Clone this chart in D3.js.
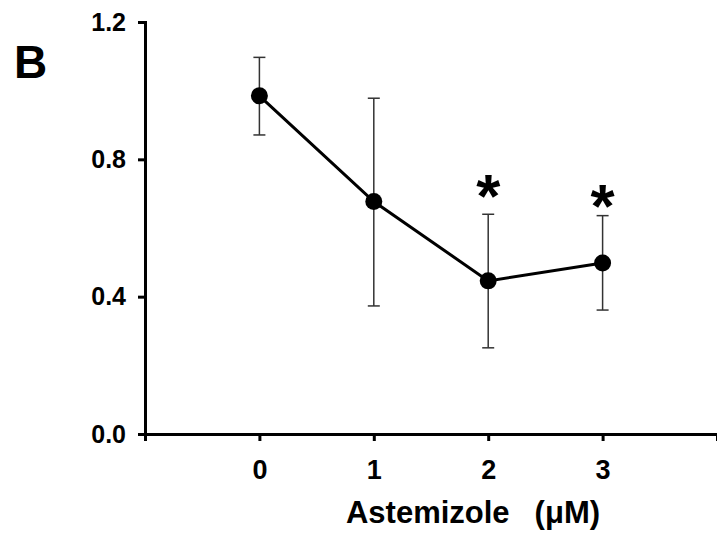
<!DOCTYPE html>
<html>
<head>
<meta charset="utf-8">
<script src="https://cdn.jsdelivr.net/npm/d3@7"></script>
<style>
  body { margin: 0; background: #fff; }
  svg { display: block; font-family: "Liberation Sans", Arial, sans-serif; }
</style>
</head>
<body>
<div id="chart"></div>
<script>
// doses (uM) and mean relative values with error bar ends
var doses = [0, 1, 2, 3];
var means = [0.985, 0.677, 0.446, 0.498];
var upper = [1.097, 0.978, 0.640, 0.636];
var lower = [0.871, 0.373, 0.251, 0.361];
// significance marks: which doses, and where the star sits (y units)
var sigDoses = [2, 3];
var sigY = [0.725, 0.696];
var yTicks = [0, 0.4, 0.8, 1.2];
var xTicks = [-1, 0, 1, 2, 3, 4];

function init() {
  var w = 717;
  var h = 536;

  var svg = d3
    .select("#chart")
    .append("svg")
    .attr("width", w)
    .attr("height", h);

  //scales
  var xScale = d3.scaleLinear().domain([-1, 4]).range([145, 717]);
  var yScale = d3.scaleLinear().domain([0, 1.2]).range([434, 22]);

  //x axis, labels only for the doses
  var xAxis = d3
    .axisBottom(xScale)
    .tickValues(xTicks)
    .tickSizeOuter(0)
    .tickSize(7)
    .tickPadding(19)
    .tickFormat(function (d) {
      return d >= 0 && d <= 3 ? d : "";
    });

  var yAxis = d3
    .axisLeft(yScale)
    .tickValues(yTicks)
    .tickSizeOuter(0)
    .tickSize(7)
    .tickPadding(12)
    .tickFormat(d3.format(".1f"));

  var gx = svg
    .append("g")
    .attr("transform", "translate(0," + yScale(0) + ")")
    .call(xAxis);

  var gy = svg
    .append("g")
    .attr("transform", "translate(" + xScale(-1) + ",0)")
    .call(yAxis);

  [gx, gy].forEach(function (g) {
    g.select(".domain").attr("stroke", "#000").attr("stroke-width", 3);
    g.selectAll(".tick line").attr("stroke", "#000").attr("stroke-width", 3);
    g.selectAll(".tick text")
      .attr("fill", "#000")
      .style("font-size", "25px")
      .style("font-weight", "bold")
      .style("font-family", "Liberation Sans, Arial, sans-serif");
  });
  gx.selectAll(".tick text").style("font-size", "27px");

  //error bars
  var bars = svg.append("g").attr("stroke", "#333").attr("stroke-width", 1.5);
  doses.forEach(function (d, i) {
    var x = xScale(d);
    bars.append("line")
      .attr("x1", x).attr("x2", x)
      .attr("y1", yScale(upper[i])).attr("y2", yScale(lower[i]));
    bars.append("line")
      .attr("x1", x - 6).attr("x2", x + 6)
      .attr("y1", yScale(upper[i])).attr("y2", yScale(upper[i]));
    bars.append("line")
      .attr("x1", x - 6).attr("x2", x + 6)
      .attr("y1", yScale(lower[i])).attr("y2", yScale(lower[i]));
  });

  //line through means
  var line = d3
    .line()
    .x(function (d, i) { return xScale(doses[i]); })
    .y(function (d) { return yScale(d); });

  svg.append("path")
    .datum(means)
    .attr("d", line)
    .attr("fill", "none")
    .attr("stroke", "#000")
    .attr("stroke-width", 3);

  //points
  svg.selectAll(".pt")
    .data(means)
    .enter()
    .append("circle")
    .attr("class", "pt")
    .attr("cx", function (d, i) { return xScale(doses[i]); })
    .attr("cy", function (d) { return yScale(d); })
    .attr("r", 8.5)
    .attr("fill", "#000");

  //significance stars
  svg.selectAll(".star")
    .data(sigDoses)
    .enter()
    .append("text")
    .attr("class", "star")
    .attr("x", function (d) { return xScale(d); })
    .attr("y", function (d, i) { return yScale(sigY[i]); })
    .attr("dy", "0.52em")
    .attr("text-anchor", "middle")
    .style("font-size", "62px")
    .style("font-weight", "bold")
    .text("*");

  //x axis title, wide gap before the unit
  var title = svg.append("text")
    .attr("x", 473)
    .attr("y", 523)
    .attr("text-anchor", "middle")
    .style("font-size", "31px")
    .style("font-weight", "bold");
  title.append("tspan").text("Astemizole");
  title.append("tspan").attr("dx", 25).text("(\u03bcM)");

  //panel letter
  svg.append("text")
    .attr("x", 14)
    .attr("y", 78)
    .style("font-size", "46px")
    .style("font-weight", "bold")
    .text("B");
}

window.onload = init;
</script>
</body>
</html>
